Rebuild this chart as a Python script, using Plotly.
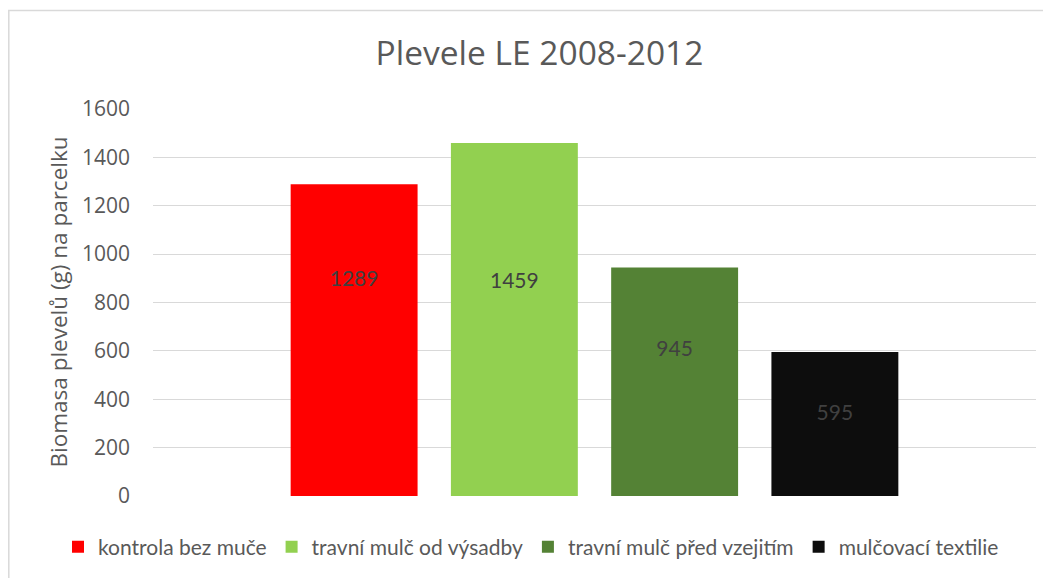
import plotly.graph_objects as go

series_names = ["kontrola bez muče", "travní mulč od výsadby", "travní mulč před vzejitím", "mulčovací textilie"]
values = [1289, 1459, 945, 595]
label_y = [889, 881, 600, 334]
colors = ["#FF0000", "#92D050", "#548235", "#0D0D0D"]
y_ticks = [0, 200, 400, 600, 800, 1000, 1200, 1400, 1600]

FONT = "Open Sans"
FONT2 = "Lato"
GRAY = "#595959"

# page body has an 8px margin: figure sits at (8, 8)
OFF = 8
W, H = 1051 - OFF, 578 - OFF
PL, PR, PT, PB = 153, 1036, 109, 496   # target plot area in page pixels
L, T = PL - OFF, PT - OFF
R, B = OFF + W - PR, OFF + H - PB
pw, ph = PR - PL, PB - PT

fig = go.Figure()
for name, v, c in zip(series_names, values, colors):
    fig.add_trace(go.Bar(x=[name], y=[v], name=name, marker=dict(color=c, line=dict(width=0)),
                         hoverinfo="y"))
fig.add_trace(go.Scatter(x=series_names, y=label_y, mode="text", text=[str(v) for v in values],
                         textfont=dict(family=FONT2, size=21, color="#404040"),
                         showlegend=False, hoverinfo="skip"))

fig.update_layout(
    width=W, height=H,
    margin=dict(l=L, r=R, t=T, b=B, autoexpand=False),
    paper_bgcolor="white", plot_bgcolor="white",
    barmode="relative", bargap=0.208,
    font=dict(family=FONT, color=GRAY),
    title=dict(text="Plevele LE 2008-2012", font=dict(family=FONT, size=33.5, color=GRAY),
               xref="container", x=(539.5 - OFF) / W, xanchor="center",
               yref="container", y=1 - (53 - OFF) / H, yanchor="middle"),
    xaxis=dict(type="category", categoryorder="array", categoryarray=series_names,
               range=[-1.255, 4.255], showticklabels=False, showgrid=False,
               zeroline=False, showline=False, fixedrange=True),
    yaxis=dict(range=[0, 1600], tickvals=y_ticks, showgrid=True, gridcolor="#D9D9D9", gridwidth=1.3,
               zeroline=False, showline=False, ticks="", ticklabelstandoff=22,
               tickfont=dict(family=FONT, size=21, color=GRAY), fixedrange=True),
    legend=dict(orientation="h", xref="paper", yref="paper",
                x=(58 - PL) / pw, xanchor="left", y=(PB - 547) / ph, yanchor="middle",
                font=dict(family=FONT2, size=21, color=GRAY), itemwidth=30, traceorder="normal",
                bgcolor="rgba(0,0,0,0)"),
    showlegend=True,
    annotations=[dict(text="Biomasa plevelů (g) na parcelku", textangle=-90,
                      xref="paper", yref="paper", x=(58 - PL) / pw, y=0.5,
                      xanchor="center", yanchor="middle", showarrow=False,
                      font=dict(family=FONT, size=22.5, color=GRAY))],
    shapes=[dict(type="rect", xref="paper", yref="paper",
                 x0=(8.8 - PL) / pw, x1=1.2, y0=-0.5, y1=(PB - 10.5) / ph,
                 line=dict(color="#D9D9D9", width=1.5), fillcolor="rgba(0,0,0,0)", layer="below")],
)

fig.write_html("out.html")
